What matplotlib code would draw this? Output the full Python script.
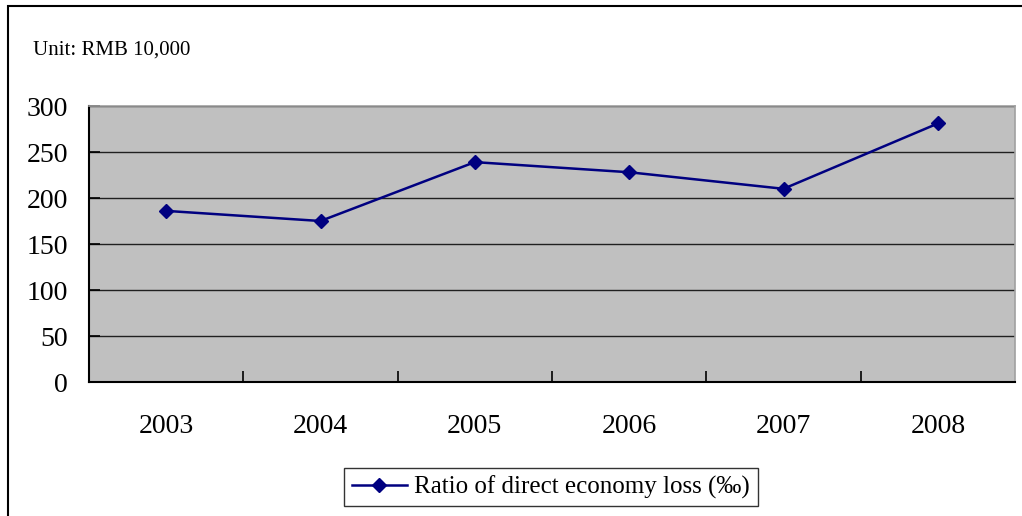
import matplotlib.pyplot as plt
from matplotlib.patches import Rectangle

years = ['2003', '2004', '2005', '2006', '2007', '2008']
ratio = [186, 175, 239, 228, 210, 281]

plt.rcParams['font.family'] = ['Liberation Serif', 'DejaVu Serif']

fig = plt.figure(figsize=(10.22, 5.16), dpi=100)
W, H = 1022, 516

# outer chart frame
fig.patches.append(Rectangle((8 / W, -0.1), 1.2, 1.1 - 6 / H, transform=fig.transFigure,
                             fill=False, edgecolor='black', linewidth=1.5))

ax = fig.add_axes([89 / W, 1 - 382 / H, (1015 - 89) / W, (382 - 106) / H])
ax.set_facecolor('#c0c0c0')

x = range(len(years))
ax.plot(x, ratio, color='#000080', linewidth=1.8, marker='D', markersize=7,
        label='Ratio of direct economy loss (‰)')

ax.set_xlim(-0.5, len(years) - 0.5)
ax.set_ylim(0, 300)
ax.set_yticks(range(0, 301, 50))
ax.yaxis.grid(True, color='#202020', linewidth=1)
ax.set_axisbelow(True)

ax.set_xticks([i + 0.5 for i in range(len(years) - 1)])
ax.set_xticklabels([])
ax.set_xticks(list(x), minor=True)
ax.set_xticklabels(years, minor=True, fontsize=20)
ax.tick_params(axis='x', which='minor', length=0, pad=23)
ax.tick_params(axis='x', which='major', direction='in', length=8, width=1.2)
ax.tick_params(axis='y', direction='in', length=8, width=1.2, labelsize=20, pad=15)

for s in ['left', 'bottom']:
    ax.spines[s].set_color('black')
    ax.spines[s].set_linewidth(1.5)
for s in ['top', 'right']:
    ax.spines[s].set_color('#a0a0a0')
    ax.spines[s].set_linewidth(1.2)

fig.text(33 / W, 1 - 50 / H, 'Unit: RMB 10,000', fontsize=15, va='center', ha='left')

fig.legend(loc='center', bbox_to_anchor=(551 / W, 1 - 487 / H), fontsize=18,
           frameon=True, fancybox=False, edgecolor='black', handlelength=2.2,
           borderpad=0.3, handletextpad=0.3)

fig.savefig('out.png', dpi=100)
